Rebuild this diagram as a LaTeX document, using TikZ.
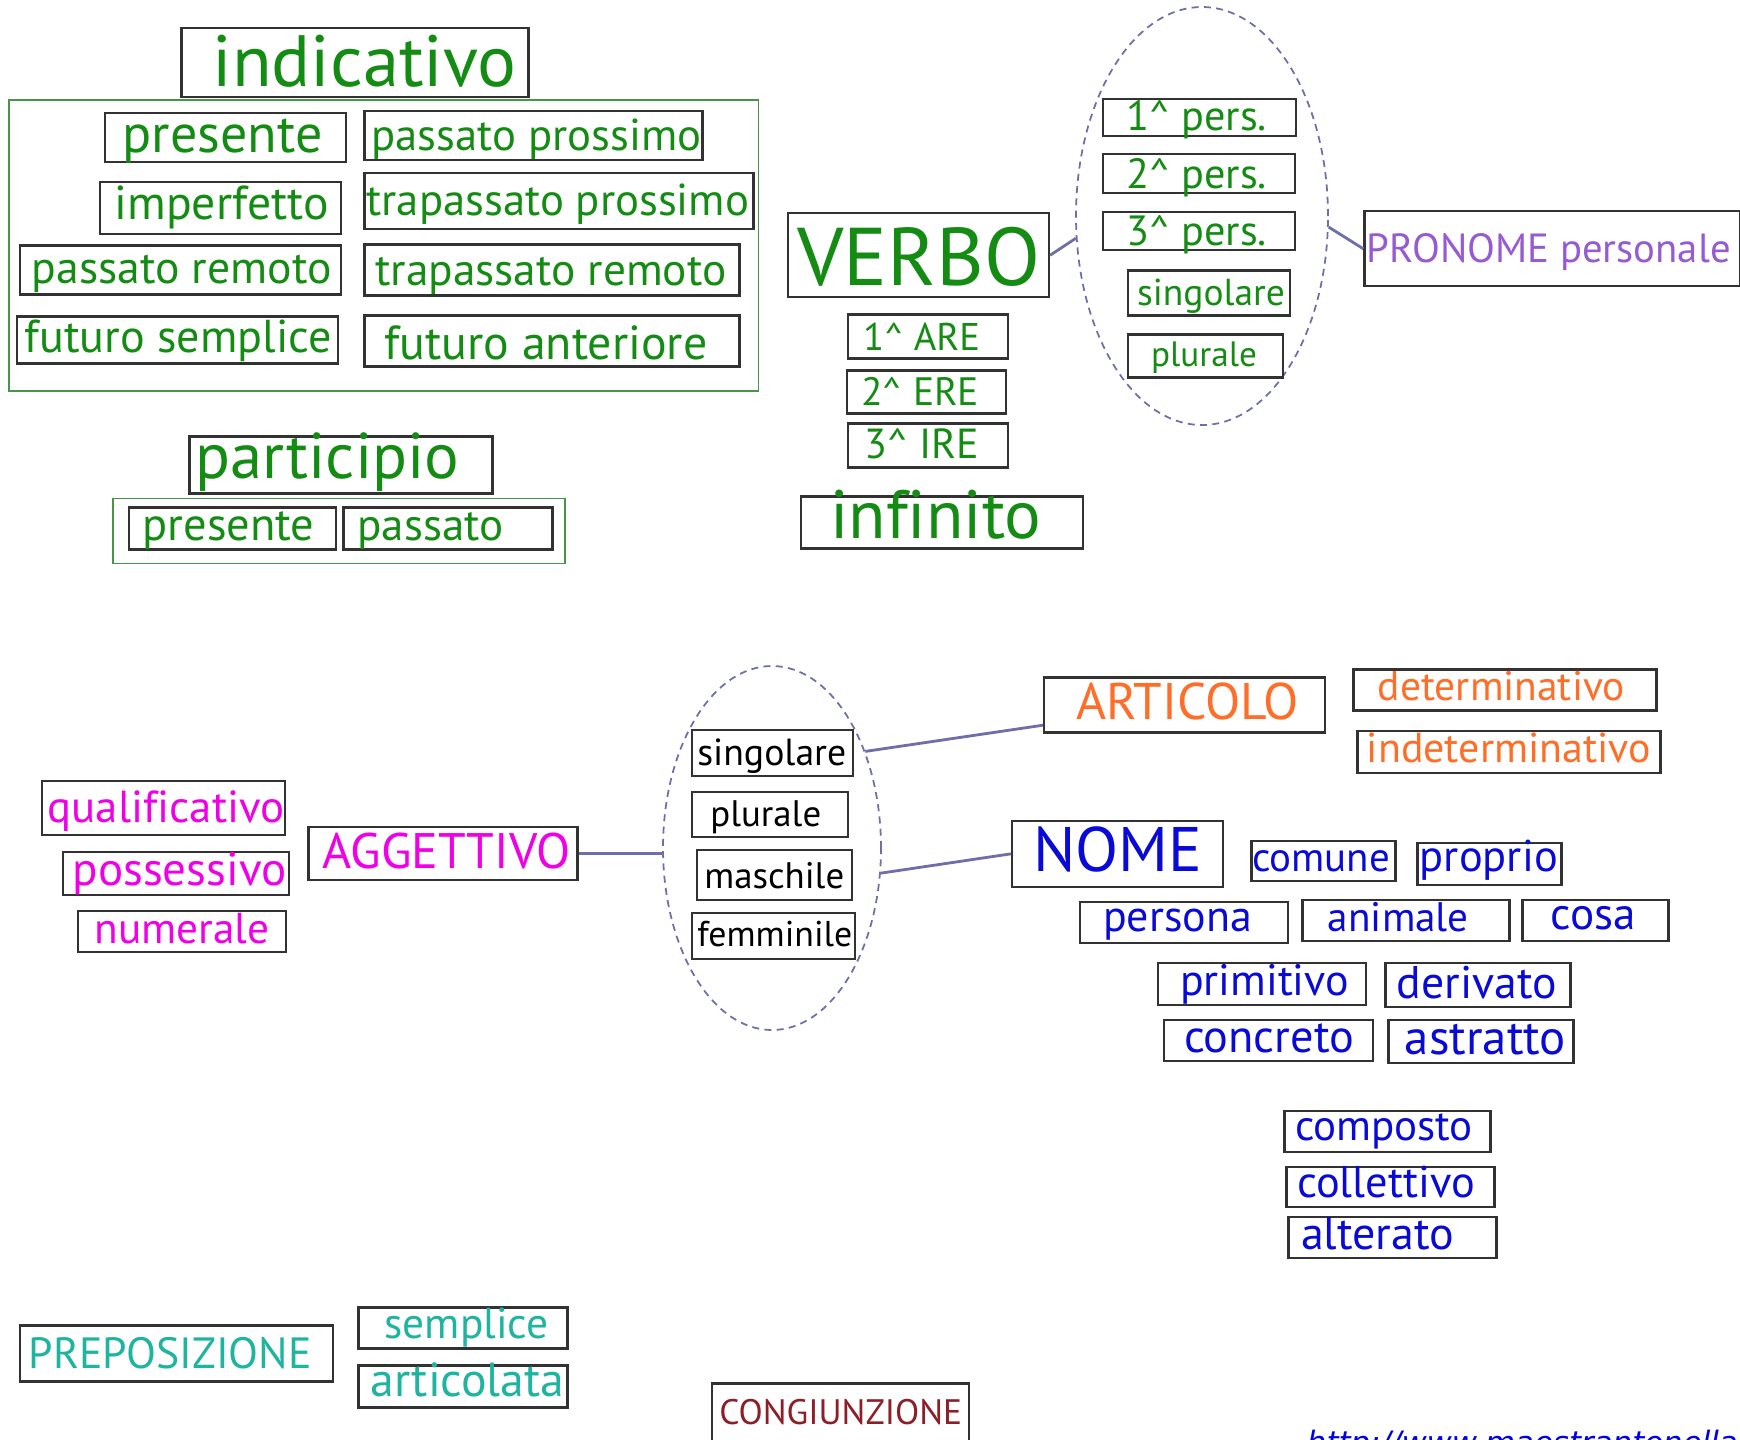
\documentclass[tikz,border=0pt]{standalone}
\usepackage{fontspec}
\setmainfont{PT Sans}[Ligatures=NoCommon]
\newfontfamily\urlfont{DejaVu Sans}
\usepackage{graphicx}
\usetikzlibrary{shapes.geometric}
\newdimen\px \px=0.01cm
\definecolor{grn}{RGB}{20,140,20}
\definecolor{boxline}{RGB}{50,50,50}
\definecolor{contline}{RGB}{70,150,70}
\definecolor{pur}{RGB}{150,90,210}
\definecolor{mag}{RGB}{240,0,230}
\definecolor{ora}{RGB}{255,110,40}
\definecolor{blu}{RGB}{10,10,215}
\definecolor{tea}{RGB}{30,180,160}
\definecolor{dred}{RGB}{140,30,40}
\definecolor{ellcol}{RGB}{110,110,170}
\definecolor{urlblue}{RGB}{0,0,230}
% box: name, x1, y1, x2, y2, style
\newcommand\bx[6]{\node[#6,minimum width={(#4-#2)*0.284528pt},minimum height={(#5-#3)*0.284528pt}] (#1) at ({(#2+#4)*0.005},{-(#3+#5)*0.005}) {};}
% text: name, x, baseline, width, colour, text
\newcommand\tx[6]{\node[anchor=base west,inner sep=0pt,text=#5] (#1) at ({#2*0.01},{-#3*0.01}) {\resizebox{#4\px}{!}{#6}};}
\begin{document}
\begin{tikzpicture}[
  every node/.style={font=\fontsize{20}{24}\selectfont},
  box/.style={draw=boxline,line width=0.7pt,inner sep=0pt},
  cont/.style={draw=contline,line width=0.5pt,inner sep=0pt},
  ellbox/.style={ellipse,draw=ellcol,dash pattern=on 2pt off 1.5pt,line width=0.5pt,inner sep=0pt},
  conn/.style={draw=ellcol,line width=0.8pt}
]
\useasboundingbox (0,0) rectangle (17.4,-14.39);
\clip (0,0) rectangle (17.4,-14.39);
% ---------------- indicativo
\bx{indic}{181}{28}{528}{97}{box}
\tx{tindic}{212}{87}{304}{grn}{indicativo}
\bx{indcont}{9}{100}{758}{391}{cont}
\bx{pres}{105}{113}{346}{162}{box}
\tx{tpres}{122}{153}{200}{grn}{presente}
\bx{passprox}{364}{111}{702}{160}{box}
\tx{tpassprox}{371}{151}{330}{grn}{passato prossimo}
\bx{imperf}{100}{182}{341}{234}{box}
\tx{timperf}{114}{220}{214}{grn}{imperfetto}
\bx{trapprox}{364}{173}{753}{229}{box}
\tx{ttrapprox}{366}{216}{383}{grn}{trapassato prossimo}
\bx{passrem}{20}{245}{341}{294}{box}
\tx{tpassrem}{31}{284}{300}{grn}{passato remoto}
\bx{traprem}{364}{244}{739}{295}{box}
\tx{ttraprem}{375}{286}{351}{grn}{trapassato remoto}
\bx{futsem}{17}{316}{338}{363}{box}
\tx{tfutsem}{24}{353}{307}{grn}{futuro semplice}
\bx{futant}{364}{315}{739}{366}{box}
\tx{tfutant}{384}{360}{323}{grn}{futuro anteriore}
% ---------------- participio
\bx{partic}{189}{436}{492}{493}{box}
\tx{tpartic}{195}{479}{264}{grn}{participio}
\bx{partcont}{113}{498}{565}{563}{cont}
\bx{ppres}{129}{507}{336}{549}{box}
\tx{tppres}{142}{541}{172}{grn}{presente}
\bx{ppass}{343}{507}{552}{549}{box}
\tx{tppass}{357}{541}{146}{grn}{passato}
% ---------------- verbo
\bx{verbo}{787}{213}{1048}{297}{box}
\tx{tverbo}{797}{286}{243}{grn}{VERBO}
\bx{are}{847}{314}{1007}{358}{box}
\tx{tare}{863}{351}{117}{grn}{1\textasciicircum\ ARE}
\bx{ere}{846}{370}{1005}{413}{box}
\tx{tere}{861}{406}{118}{grn}{2\textasciicircum\ ERE}
\bx{ire}{847}{423}{1007}{467}{box}
\tx{tire}{864}{459}{115}{grn}{3\textasciicircum\ IRE}
\bx{infin}{800}{496}{1082}{548}{box}
\tx{tinfin}{830}{539}{211}{grn}{infinito}
% ---------------- ellipse 1
\node[ellbox,minimum width=2.52cm,minimum height=4.18cm] (ell1) at (12.02,-2.16) {};
\bx{p1}{1102}{99}{1295}{136}{box}
\tx{tp1}{1126}{131}{141}{grn}{1\textasciicircum\ pers.}
\bx{p2}{1102}{154}{1294}{193}{box}
\tx{tp2}{1126}{189}{141}{grn}{2\textasciicircum\ pers.}
\bx{p3}{1102}{212}{1294}{250}{box}
\tx{tp3}{1126}{246}{141}{grn}{3\textasciicircum\ pers.}
\bx{sing1}{1127}{270}{1289}{315}{box}
\tx{tsing1}{1137}{306}{148}{grn}{singolare}
\bx{plur1}{1127}{334}{1282}{377}{box}
\tx{tplur1}{1151}{367}{106}{grn}{plurale}
\bx{pron}{1363}{211}{1739}{286}{box}
\tx{tpron}{1367}{263}{364}{pur}{PRONOME personale}
\draw[conn] (verbo.east) -- (ell1.190);
\draw[conn] (ell1.-5) -- (pron.west);
% ---------------- ellipse 2
\node[ellbox,minimum width=2.18cm,minimum height=3.64cm] (ell2) at (7.72,-8.48) {};
\bx{sing2}{691}{729}{852}{775}{box}
\tx{tsing2}{697}{766}{149}{black}{singolare}
\bx{plur2}{691}{791}{847}{836}{box}
\tx{tplur2}{710}{827}{111}{black}{plurale}
\bx{masch}{696}{849}{851}{899}{box}
\tx{tmasch}{704}{889}{140}{black}{maschile}
\bx{femm}{691}{912}{854}{958}{box}
\tx{tfemm}{697}{947}{155}{black}{femminile}
% ---------------- articolo
\bx{artic}{1043}{677}{1324}{732}{box}
\tx{tartic}{1076}{720}{223}{ora}{ARTICOLO}
\bx{det}{1352}{669}{1655}{710}{box}
\tx{tdet}{1378}{701}{247}{ora}{determinativo}
\bx{indet}{1356}{730}{1659}{772}{box}
\tx{tindet}{1367}{763}{284}{ora}{indeterminativo}
% ---------------- nome
\bx{nome}{1011}{820}{1222}{886}{box}
\tx{tnome}{1033}{872}{169}{blu}{NOME}
\bx{comune}{1250}{840}{1394}{880}{box}
\tx{tcomune}{1252}{872}{138}{blu}{comune}
\bx{proprio}{1416}{842}{1560}{884}{box}
\tx{tproprio}{1420}{872}{138}{blu}{proprio}
\bx{persona}{1079}{901}{1287}{942}{box}
\tx{tpersona}{1103}{932}{149}{blu}{persona}
\bx{animale}{1301}{899}{1508}{940}{box}
\tx{tanimale}{1328}{932}{141}{blu}{animale}
\bx{cosa}{1521}{899}{1667}{940}{box}
\tx{tcosa}{1551}{930}{85}{blu}{cosa}
\bx{primit}{1157}{962}{1365}{1004}{box}
\tx{tprimit}{1180}{996}{169}{blu}{primitivo}
\bx{deriv}{1384}{962}{1569}{1006}{box}
\tx{tderiv}{1397}{999}{160}{blu}{derivato}
\bx{concr}{1163}{1019}{1372}{1060}{box}
\tx{tconcr}{1184}{1053}{170}{blu}{concreto}
\bx{astr}{1387}{1019}{1572}{1062}{box}
\tx{tastr}{1405}{1055}{161}{blu}{astratto}
\bx{compo}{1283}{1110}{1489}{1151}{box}
\tx{tcompo}{1295}{1141}{178}{blu}{composto}
\bx{coll}{1285}{1166}{1493}{1206}{box}
\tx{tcoll}{1297}{1198}{178}{blu}{collettivo}
\bx{alter}{1287}{1216}{1495}{1257}{box}
\tx{talter}{1301}{1250}{153}{blu}{alterato}
% ---------------- aggettivo
\bx{agg}{308}{826}{577}{879}{box}
\tx{tagg}{322}{869}{248}{mag}{AGGETTIVO}
\bx{qual}{42}{780}{285}{834}{box}
\tx{tqual}{47}{823}{237}{mag}{qualificativo}
\bx{poss}{63}{851}{289}{894}{box}
\tx{tposs}{72}{886}{214}{mag}{possessivo}
\bx{numer}{78}{910}{286}{951}{box}
\tx{tnumer}{94}{944}{175}{mag}{numerale}
\draw[conn] (agg.east) -- (ell2.west |- agg.east);
\draw[conn] (ell2.46) -- ([yshift=-0.2cm]artic.west);
\draw[conn] (ell2.-13) -- (nome.west);
% ---------------- preposizione / congiunzione
\bx{prep}{20}{1324}{333}{1380}{box}
\tx{tprep}{28}{1369}{283}{tea}{PREPOSIZIONE}
\bx{sempl}{358}{1306}{567}{1347}{box}
\tx{tsempl}{384}{1339}{164}{tea}{semplice}
\bx{artico}{358}{1364}{567}{1406}{box}
\tx{tartico}{370}{1397}{194}{tea}{articolata}
\bx{cong}{711}{1382}{968}{1460}{box}
\tx{tcong}{719}{1425}{243}{dred}{CONGIUNZIONE}
\tx{turl}{1307}{1454}{431}{urlblue}{\urlfont\itshape http://www.maestrantonella}
\end{tikzpicture}
\end{document}
